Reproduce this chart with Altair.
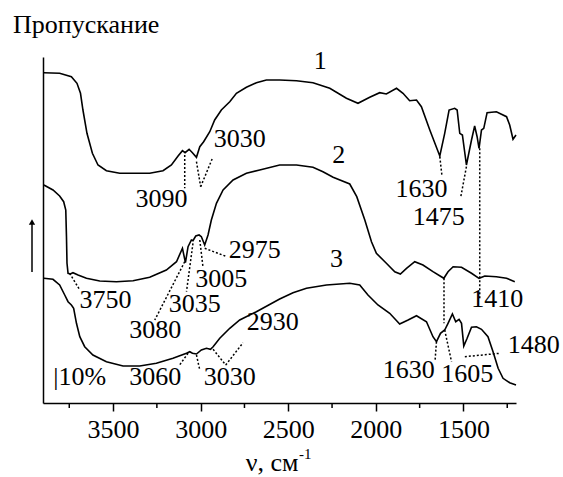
import altair as alt
import pandas as pd

FONT = "Liberation Serif, Times New Roman, DejaVu Serif, serif"

# ---- spectra (wavenumber, cm-1 ; transmittance, arbitrary units) ----
wn1 = [3895, 3805, 3738, 3706, 3686, 3672, 3649, 3618, 3586, 3538, 3462, 3291, 3215, 3167, 3129,
       3104, 3089, 3066, 3047, 3024, 3005, 2983, 2948, 2920, 2882, 2834, 2796, 2739, 2682, 2625,
       2549, 2453, 2359, 2263, 2168, 2102, 2035, 1978, 1940, 1882, 1845, 1807, 1768, 1740, 1692,
       1635, 1607, 1582, 1550, 1536, 1521, 1506, 1483, 1454, 1436, 1422, 1411, 1397, 1384, 1365,
       1312, 1254, 1236, 1217, 1200]
t1 = [330.3, 329.7, 326.3, 319.7, 309.7, 293, 269.7, 249.7, 238, 232.3, 229.7, 229.7, 232.3, 238, 247,
      252.3, 250.3, 253.7, 250.3, 245.7, 256.3, 261.3, 271.3, 283, 293, 301.3, 309.7, 315.7, 320.3, 323,
      323, 322.3, 320.3, 314.7, 304.7, 299.7, 305.7, 310.3, 309, 314.7, 309.7, 302.3, 303, 296.3, 273,
      247, 269.7, 293, 294.7, 293, 269.7, 268, 238, 263, 277, 266.3, 254.7, 273, 274.7, 290.3,
      291.3, 286.3, 278, 263.7, 268]

wn2 = [3895, 3843, 3805, 3782, 3770, 3766, 3763, 3757, 3744, 3729, 3700, 3652, 3576, 3481, 3386,
       3291, 3196, 3138, 3104, 3087, 3072, 3053, 3044, 3028, 3009, 2996, 2977, 2958, 2939, 2910,
       2872, 2815, 2739, 2663, 2549, 2453, 2359, 2302, 2244, 2149, 2109, 2063, 2025, 1997, 1940,
       1892, 1860, 1825, 1778, 1731, 1674, 1612, 1588, 1559, 1511, 1454, 1411, 1378, 1312, 1254,
       1207]
t2 = [218, 213, 207, 201.3, 193, 166.3, 139.7, 129.7, 129, 130.3, 128, 124.7, 122, 121.3, 122.3,
      125.7, 133, 141.3, 154.7, 140.3, 156.3, 163, 162.3, 167, 168, 166.3, 158, 168, 183, 199.7,
      213, 223, 229.7, 233, 238, 238, 235.7, 231.3, 225.7, 219, 206.3, 183, 161.3, 149.7, 139.7,
      131.3, 129, 134.7, 141.3, 138, 131.3, 124.7, 131.3, 136.3, 135.7, 129.7, 124.7, 127, 126.3, 124.7,
      121.3]

wn3 = [3895, 3843, 3805, 3776, 3757, 3738, 3725, 3709, 3690, 3662, 3615, 3538, 3443, 3348, 3253,
       3158, 3081, 3062, 3047, 3024, 2996, 2967, 2944, 2929, 2891, 2834, 2777, 2682, 2549, 2473,
       2396, 2282, 2149, 2092, 2045, 1988, 1921, 1864, 1816, 1768, 1711, 1674, 1654, 1631, 1607,
       1588, 1563, 1544, 1525, 1511, 1498, 1479, 1454, 1426, 1397, 1360, 1331, 1302, 1274, 1236,
       1200]
t3 = [124.7, 123.7, 118, 108, 101.3, 98, 94.7, 79.7, 66.3, 56.3, 48, 41.3, 37, 37, 39.7,
      44.7, 49.7, 51.3, 49.7, 49, 53, 54.7, 53.7, 56.3, 64.7, 74.7, 83, 91.3, 104, 110.3,
      114.7, 118, 119.7, 118, 108, 98, 89.7, 79, 83, 87.3, 81.3, 66.3, 61.3, 69.7, 73,
      79.7, 89, 81.3, 83.7, 79.7, 57, 64.7, 75.7, 76.3, 73.7, 66.3, 51.3, 34.7, 24.7, 20.3,
      18]

# ---- peak labels ----
lab_text = ["3030", "3090", "1630", "1475", "2975", "3005", "3750", "3035", "3080", "2930",
            "|10%", "3060", "3030", "1410", "1480", "1630", "1605", "1", "2", "3"]
lab_wn = [2777, 3224, 1740, 1641, 2691, 2882, 3543, 3034, 3259, 2589,
          3690, 3259, 2834, 1307, 1099, 1812, 1478, 2318, 2212, 2225]
lab_t = [256.3, 196.3, 206.3, 178, 144.7, 116.3, 94.7, 91.3, 64.7, 73,
         18, 18, 18, 96.3, 49.7, 24.7, 21.3, 333.7, 239.7, 136.3]

# ---- dotted leader segments ----
ld_wn1 = [3091, 3024, 3000, 1635, 1483, 1407, 3748, 3091, 3044, 3005, 2977, 1611, 1607, 1654, 1492, 3072, 3024, 2929, 2857]
ld_t1 = [248, 241.3, 216.3, 246.3, 236.3, 254.7, 129.7, 141.3, 159.7, 163, 154.7, 124.7, 73, 61.3, 46.3, 49.7, 48, 53.7, 38]
ld_wn2 = [3091, 3000, 2933, 1622, 1515, 1407, 3690, 3262, 3081, 2987, 2850, 1611, 1568, 1662, 1293, 3120, 3005, 2857, 2758]
ld_t2 = [214.7, 216.3, 244.7, 226.3, 206.3, 103, 113, 83, 111.3, 136.3, 146.3, 79.7, 41.3, 42.3, 49.7, 38, 33, 38, 60.3]

major_ticks = [3500, 3000, 2500, 2000, 1500]
minor_ticks = [3750, 3250, 2750, 2250, 1750, 1250]

W, H = 473, 346
XS = alt.Scale(domain=[1200, 3900], reverse=True, nice=False, zero=False)
YS = alt.Scale(domain=[0, 346], nice=False, zero=False)

rows = []
for name, wn, t in [("1", wn1, t1), ("2", wn2, t2), ("3", wn3, t3)]:
    for i, (a, b) in enumerate(zip(wn, t)):
        rows.append({"series": name, "i": i, "wn": a, "t": b})
curves_df = pd.DataFrame(rows)

curves = alt.Chart(curves_df).mark_line(color="black", strokeWidth=1.6).encode(
    x=alt.X("wn:Q", scale=XS, title=None, axis=alt.Axis(values=major_ticks, format="d")),
    y=alt.Y("t:Q", scale=YS, title=None, axis=alt.Axis(labels=False, ticks=False)),
    detail="series:N",
    order="i:Q",
)

leaders_df = pd.DataFrame({"x1": ld_wn1, "y1": ld_t1, "x2": ld_wn2, "y2": ld_t2})
leaders = alt.Chart(leaders_df).mark_rule(color="black", strokeWidth=1.5, strokeDash=[2, 2]).encode(
    x=alt.X("x1:Q", scale=XS, title=None),
    x2="x2:Q",
    y=alt.Y("y1:Q", scale=YS, title=None),
    y2="y2:Q",
)

labels_df = pd.DataFrame({"text": lab_text, "wn": lab_wn, "t": lab_t})
labels = alt.Chart(labels_df).mark_text(
    font=FONT, fontSize=26, align="center", baseline="alphabetic", color="black"
).encode(
    x=alt.X("wn:Q", scale=XS, title=None),
    y=alt.Y("t:Q", scale=YS, title=None),
    text="text:N",
)

minor_df = pd.DataFrame({"wn": minor_ticks})
minor = alt.Chart(minor_df).mark_rule(color="black", strokeWidth=1.5).encode(
    x=alt.X("wn:Q", scale=XS, title=None),
    y=alt.value(H),
    y2=alt.value(H + 5),
)

one = pd.DataFrame({"k": [0]})
title_txt = alt.Chart(pd.DataFrame({"s": ["Пропускание"]})).mark_text(
    font=FONT, fontSize=26, align="left", baseline="alphabetic", color="black"
).encode(x=alt.value(-30), y=alt.value(-24), text="s:N")

xtitle = alt.Chart(pd.DataFrame({"s": ["ν, см"]})).mark_text(
    font=FONT, fontSize=26, align="center", baseline="alphabetic", color="black"
).encode(x=alt.value(229), y=alt.value(414), text="s:N")

xsup = alt.Chart(pd.DataFrame({"s": ["-1"]})).mark_text(
    font=FONT, fontSize=15, align="left", baseline="alphabetic", color="black"
).encode(x=alt.value(256), y=alt.value(402), text="s:N")

arrow_shaft = alt.Chart(one).mark_rule(color="black", strokeWidth=1.5).encode(
    x=alt.value(-11), y=alt.value(167), y2=alt.value(215)
)
arrow_head = alt.Chart(one).mark_point(
    shape="triangle-up", filled=True, size=40, color="black", opacity=1
).encode(x=alt.value(-11), y=alt.value(165))

chart = alt.layer(
    curves, leaders, labels, minor, title_txt, xtitle, xsup, arrow_shaft, arrow_head
).properties(
    width=W, height=H,
    padding={"left": 43, "top": 57, "right": 47, "bottom": 74},
    autosize=alt.AutoSizeParams(type="none"),
).configure_view(
    strokeWidth=0
).configure_axis(
    grid=False,
    domainColor="black",
    domainWidth=1.5,
    tickColor="black",
    tickWidth=1.5,
    labelColor="black",
    labelFont=FONT,
    labelFontSize=26,
).configure_axisX(
    tickSize=8,
    labelBaseline="alphabetic",
    labelPadding=26,
    labelFlush=False,
)

chart.save("out.html", embed_options={"renderer": "svg", "actions": False})
